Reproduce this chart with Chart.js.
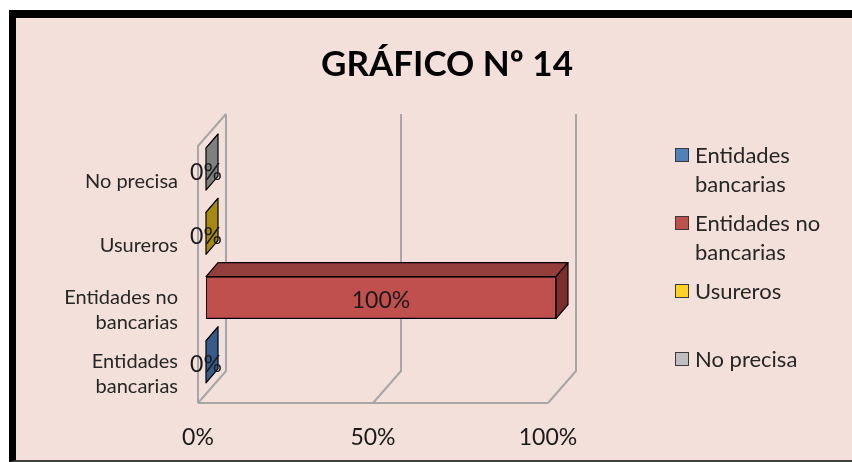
<!DOCTYPE html>
<html>
<head>
<meta charset="utf-8">
<script src="https://cdn.jsdelivr.net/npm/chart.js@4.4.1/dist/chart.umd.min.js"></script>
<style>
  html, body { margin: 0; padding: 0; background: #fff; overflow: hidden; width: 852px; height: 462px; }
  #frame { position: absolute; left: 9px; top: 10px; width: 836px; height: 442px; overflow: hidden;
           border-left: 7px solid #000; border-top: 8px solid #000; border-bottom: 2px solid #404040;
           background: #F4E0DA; }
  #chart { position: absolute; left: 0; top: 0; }
  #title { position: absolute; left: 0; width: 862px; top: 23px; line-height: 40px; text-align: center;
           font: 700 35px Lato, sans-serif; color: #000; }
  .item { position: absolute; left: 659px; font: 22px Lato, sans-serif; line-height: 29px; color: #262626; }
  .item .box { position: absolute; left: 0; top: 8px; width: 12px; height: 12px; border: 1px solid #3a3a3a; }
  .item .txt { position: absolute; left: 20px; top: 0; width: 170px; }
</style>
</head>
<body>
<div id="frame">
  <canvas id="chart" width="836" height="442"></canvas>
  <div id="title">GRÁFICO Nº 14</div>
  <div id="legend"></div>
</div>
<script>
// categories from bottom to top, one series per category
const categories = [['Entidades', 'bancarias'], ['Entidades no', 'bancarias'], 'Usureros', 'No precisa']
const seriesNames = ['Entidades bancarias', 'Entidades no bancarias', 'Usureros', 'No precisa']
const seriesValues = [0, 100, 0, 0]
const xTicks = [0, 50, 100]

// colours: front face, top face, side face
const frontColors = ['#4F81BD', '#C0504D', '#FFD320', '#BFBFBF']
const topColors = ['#4A6E9C', '#943E3B', '#C9A514', '#9A9A9A']
const sideColors = ['#375C89', '#7B2F2D', '#A68A10', '#7F7F7F']

// 3d offsets (pixels) for the bars and the walls, relative to the bar face
const barDepth = {dx: 12, dy: -14}
const wallFront = {dx: -8, dy: 9}
const wallBack = {dx: 20, dy: -23}

const datasets = seriesNames.map((name, k) => ({
    label: name,
    data: categories.map((c, j) => j === k ? seriesValues[k] : null),
    backgroundColor: frontColors[k],
    borderColor: '#000',
    borderWidth: 1.2,
    borderSkipped: false,
    barThickness: 42
}))

// legend built from the same series
const legend = document.getElementById('legend')
seriesNames.forEach((name, k) => {
    const item = document.createElement('div')
    item.className = 'item'
    item.style.top = (122 + k * 68) + 'px'
    const words = name.split(' ')
    const text = words.length > 2 ? words.slice(0, -1).join(' ') + '<br>' + words[words.length - 1]
               : words.length === 2 && name.length > 12 ? words[0] + '<br>' + words[1] : name
    item.innerHTML = '<div class="box" style="background:' + frontColors[k] + '"></div><div class="txt">' + text + '</div>'
    legend.appendChild(item)
})

// floor and walls of the 3d box
const walls = {
    id: 'walls',
    beforeDatasetsDraw(chart) {
        const {ctx, chartArea: a, scales: {x}} = chart
        const x0 = x.getPixelForValue(xTicks[0])
        const xEnd = x.getPixelForValue(xTicks[xTicks.length - 1])
        ctx.save()
        ctx.strokeStyle = '#A6A6A6'
        ctx.lineWidth = 2
        ctx.beginPath()
        ctx.moveTo(x0 + wallFront.dx, a.bottom + wallFront.dy)
        ctx.lineTo(x0 + wallFront.dx, a.top + wallFront.dy)
        ctx.lineTo(x0 + wallBack.dx, a.top + wallBack.dy)
        ctx.moveTo(x0 + wallFront.dx, a.bottom + wallFront.dy)
        ctx.lineTo(xEnd + wallFront.dx, a.bottom + wallFront.dy)
        xTicks.forEach(v => {
            const px = x.getPixelForValue(v)
            ctx.moveTo(px + wallBack.dx, a.top + wallBack.dy)
            ctx.lineTo(px + wallBack.dx, a.bottom + wallBack.dy)
            ctx.lineTo(px + wallFront.dx, a.bottom + wallFront.dy)
        })
        ctx.stroke()
        ctx.restore()
    }
}

function poly(ctx, pts, fill) {
    ctx.beginPath()
    ctx.moveTo(pts[0][0], pts[0][1])
    pts.slice(1).forEach(p => ctx.lineTo(p[0], p[1]))
    ctx.closePath()
    ctx.fillStyle = fill
    ctx.fill()
    ctx.stroke()
}

// top and side faces of each bar, then the value labels
const bars3d = {
    id: 'bars3d',
    afterDatasetsDraw(chart) {
        const ctx = chart.ctx
        const {dx, dy} = barDepth
        const labels = []
        ctx.save()
        ctx.strokeStyle = '#000'
        ctx.lineWidth = 1.2
        ctx.lineJoin = 'round'
        chart.data.datasets.forEach((ds, i) => {
            chart.getDatasetMeta(i).data.forEach((bar, j) => {
                if (ds.data[j] == null) return
                const {x, y, base, height} = bar.getProps(['x', 'y', 'base', 'height'], true)
                const top = y - height / 2, bottom = y + height / 2
                poly(ctx, [[base, top], [x, top], [x + dx, top + dy], [base + dx, top + dy]], topColors[i])
                poly(ctx, [[x, top], [x + dx, top + dy], [x + dx, bottom + dy], [x, bottom]], sideColors[i])
                labels.push([ds.data[j] + '%', (base + x) / 2, y + 3])
            })
        })
        ctx.fillStyle = '#1a1a1a'
        ctx.font = '23px Lato'
        ctx.textAlign = 'center'
        ctx.textBaseline = 'middle'
        labels.forEach(l => ctx.fillText(l[0], l[1], l[2]))
        ctx.restore()
    }
}

Chart.defaults.font.family = 'Lato'
Chart.defaults.color = '#262626'

new Chart(document.getElementById('chart'), {
    type: 'bar',
    data: {labels: categories, datasets: datasets},
    options: {
        indexAxis: 'y',
        responsive: false,
        animation: false,
        devicePixelRatio: 1,
        layout: {padding: {top: 119, right: 296, left: 0, bottom: 0}},
        plugins: {legend: {display: false}, tooltip: {enabled: false}, title: {display: false}},
        scales: {
            x: {
                stacked: true,
                min: 0, max: 100,
                grid: {display: false, drawTicks: false},
                border: {display: false},
                ticks: {stepSize: 50, padding: 30, labelOffset: -8, font: {size: 23}, color: '#1a1a1a',
                        callback: v => v + '%'},
                afterFit: s => { s.height = 66 }
            },
            y: {
                stacked: true,
                reverse: true,
                grid: {display: false, drawTicks: false},
                border: {display: false},
                ticks: {padding: 28, labelOffset: 12, font: {size: 20, lineHeight: 1.25}, color: '#262626'},
                afterFit: s => { s.width = 190 }
            }
        }
    },
    plugins: [walls, bars3d]
})
</script>
</body>
</html>
